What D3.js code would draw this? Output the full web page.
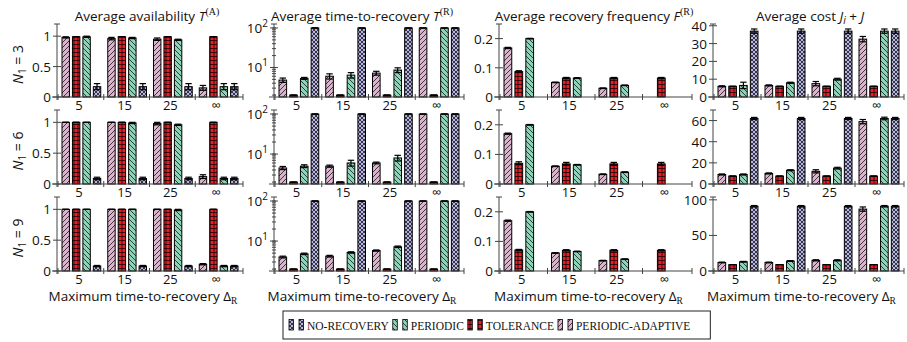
<!DOCTYPE html>
<html>
<head>
<meta charset="utf-8">
<script src="https://cdn.jsdelivr.net/npm/d3@7"></script>
<style>
  body { margin: 0; background: #fff; }
  svg text { font-family: "Open Sans", "DejaVu Sans", sans-serif; fill: #111; }
</style>
</head>
<body>
<svg id="chart" width="907" height="342"></svg>
<script>
// ---- data -------------------------------------------------------------
const deltas = ["5", "15", "25", "∞"];
const strategies = ["PERIODIC-ADAPTIVE", "TOLERANCE", "PERIODIC", "NO-RECOVERY"];
const legendOrder = ["NO-RECOVERY", "PERIODIC", "TOLERANCE", "PERIODIC-ADAPTIVE"];
const n1Values = [3, 6, 9];

// values indexed [row N1][strategy][delta]
const availability = [
  [[0.98, 0.96, 0.95, 0.15], [0.99, 0.99, 0.99, 0.99], [0.99, 0.97, 0.94, 0.17], [0.17, 0.17, 0.17, 0.17]],
  [[1.00, 1.00, 0.98, 0.12], [1.00, 1.00, 1.00, 1.00], [1.00, 0.99, 0.96, 0.09], [0.09, 0.09, 0.09, 0.09]],
  [[1.00, 1.00, 1.00, 0.11], [1.00, 1.00, 1.00, 1.00], [1.00, 1.00, 0.99, 0.08], [0.08, 0.08, 0.08, 0.08]]
];
const availabilityErr = [
  [[0.01, 0.02, 0.02, 0.04], [0, 0, 0, 0], [0.01, 0.01, 0.01, 0.05], [0.05, 0.05, 0.05, 0.05]],
  [[0, 0, 0.02, 0.03], [0, 0, 0, 0], [0, 0.01, 0.01, 0.02], [0.02, 0.02, 0.02, 0.02]],
  [[0, 0, 0, 0.01], [0, 0, 0, 0], [0, 0, 0.01, 0.01], [0.01, 0.01, 0.01, 0.01]]
];

const recoveryTime = [
  [[4.8, 6.0, 7.2, 100], [2, 2, 2, 2], [5.3, 6.4, 8.6, 100], [100, 100, 100, 100]],
  [[4.5, 5.0, 6.0, 100], [2, 2, 2, 2], [5.0, 6.0, 8.0, 100], [100, 100, 100, 100]],
  [[4.0, 4.2, 5.8, 100], [2, 2, 2, 2], [4.8, 5.2, 7.2, 100], [100, 100, 100, 100]]
];
const recoveryTimeErr = [
  [[0.6, 0.9, 0.8, 0], [0, 0, 0, 0], [0.3, 1.0, 1.2, 0], [0, 0, 0, 0]],
  [[0.4, 0.3, 0.3, 0], [0, 0, 0, 0], [0.4, 1.0, 1.3, 0], [0, 0, 0, 0]],
  [[0.2, 0.2, 0.2, 0], [0, 0, 0, 0], [0.2, 0.2, 0.3, 0], [0, 0, 0, 0]]
];

const recoveryFreq = [
  [[0.168, 0.050, 0.030, 0], [0.087, 0.065, 0.065, 0.065], [0.200, 0.065, 0.040, 0], [0, 0, 0, 0]],
  [[0.170, 0.060, 0.033, 0], [0.070, 0.068, 0.068, 0.068], [0.200, 0.065, 0.040, 0], [0, 0, 0, 0]],
  [[0.170, 0.061, 0.035, 0], [0.071, 0.070, 0.070, 0.070], [0.200, 0.066, 0.040, 0], [0, 0, 0, 0]]
];
const recoveryFreqErr = [
  [[0.002, 0.001, 0.001, 0], [0.003, 0.002, 0.002, 0.002], [0.001, 0.001, 0.001, 0], [0, 0, 0, 0]],
  [[0.002, 0.001, 0.001, 0], [0.005, 0.005, 0.005, 0.005], [0.001, 0.001, 0.001, 0], [0, 0, 0, 0]],
  [[0.002, 0.001, 0.001, 0], [0.002, 0.002, 0.002, 0.002], [0.001, 0.001, 0.001, 0], [0, 0, 0, 0]]
];

const cost = [
  [[6.0, 6.5, 7.5, 32.5], [6.0, 6.0, 6.0, 6.0], [6.5, 8.0, 10.0, 37], [37, 37, 37, 37]],
  [[9.0, 10.0, 12.0, 59], [7.5, 7.5, 7.5, 7.5], [9.0, 13.0, 15.0, 62], [62, 62, 62, 62]],
  [[12.0, 12.0, 15.0, 87], [9.0, 9.0, 9.0, 9.0], [13.0, 14.0, 15.0, 91], [91, 91, 91, 91]]
];
const costErr = [
  [[0.3, 0.3, 1.2, 1.5], [0, 0, 0, 0], [1.8, 0.3, 0.5, 1.2], [1.2, 1.2, 1.2, 1.2]],
  [[0.5, 0.5, 1.5, 2.0], [0, 0, 0, 0], [0.5, 0.5, 0.8, 1.2], [1.0, 1.0, 1.0, 1.0]],
  [[0.5, 0.5, 0.8, 3.0], [0, 0, 0, 0], [0.5, 0.5, 0.8, 1.0], [1.0, 1.0, 1.0, 1.0]]
];

const availabilityTicks = [0, 0.5, 1];
const recoveryTimeTicks = [10, 100];
const recoveryFreqTicks = [0, 0.1, 0.2];
const costTicks = [[0, 10, 20, 30, 40], [0, 20, 40, 60], [0, 50, 100]];
const costMax = [41, 70, 104];

// ---- styling ----------------------------------------------------------
const fills = {
  "PERIODIC-ADAPTIVE": "#dab3cc",
  "TOLERANCE": "#ec1c24",
  "PERIODIC": "#8dd3b7",
  "NO-RECOVERY": "#b5b4e3"
};
const hatch = {
  "PERIODIC-ADAPTIVE": { id: "pat-adaptive", size: 5, d: "M-1,1 l2,-2 M0,5 l5,-5 M4,6 l2,-2" },
  "TOLERANCE": { id: "pat-tolerance", size: 4, d: "M0,0.5 h4 M2,0 v4" },
  "PERIODIC": { id: "pat-periodic", size: 5, d: "M-1,4 l2,2 M0,0 l5,5 M4,-1 l2,2" },
  "NO-RECOVERY": { id: "pat-none", size: 4, d: "M-1,1 l2,-2 M0,4 l4,-4 M3,5 l2,-2 M-1,3 l2,2 M0,0 l4,4 M3,-1 l2,2" }
};

const svg = d3.select("#chart");
const defs = svg.append("defs");
strategies.forEach(s => {
  const h = hatch[s];
  const p = defs.append("pattern")
    .attr("id", h.id).attr("patternUnits", "userSpaceOnUse")
    .attr("width", h.size).attr("height", h.size);
  p.append("rect").attr("width", h.size).attr("height", h.size).attr("fill", fills[s]);
  p.append("path").attr("d", h.d).attr("stroke", "#000").attr("stroke-width", 0.7).attr("fill", "none");
});

// ---- layout -----------------------------------------------------------
const columns = [
  { left: 57, width: 184, data: availability, err: availabilityErr, log: false },
  { left: 274, width: 188, data: recoveryTime, err: recoveryTimeErr, log: true },
  { left: 499, width: 191, data: recoveryFreq, err: recoveryFreqErr, log: false },
  { left: 713, width: 189, data: cost, err: costErr, log: false }
];
const rows = [{ top: 24, bottom: 97 }, { top: 110, bottom: 184 }, { top: 197, bottom: 271 }];
const axisColor = "#444";

function yScaleFor(ci, ri) {
  const r = rows[ri];
  if (ci === 0) return d3.scaleLinear().domain([0, 1.2]).range([r.bottom, r.top]);
  if (ci === 1) return d3.scaleLog().domain([1.79, 126]).range([r.bottom, r.top]);
  if (ci === 2) return d3.scaleLinear().domain([0, 0.25]).range([r.bottom, r.top]);
  return d3.scaleLinear().domain([0, costMax[ri]]).range([r.bottom, r.top]);
}
function ticksFor(ci, ri) {
  return [availabilityTicks, recoveryTimeTicks, recoveryFreqTicks, costTicks[ri]][ci];
}

columns.forEach((col, ci) => {
  const gx = d3.scaleBand().domain(deltas).range([col.left + 1, col.left + col.width]).padding(0);
  const sx = d3.scaleBand().domain(strategies).range([4, gx.bandwidth() - 3]).paddingInner(0.29).paddingOuter(0);

  rows.forEach((row, ri) => {
    const y = yScaleFor(ci, ri);
    const g = svg.append("g");
    const base = row.bottom;

    // bars
    strategies.forEach((s, si) => {
      deltas.forEach((dl, di) => {
        const v = col.data[ri][si][di];
        if (!(v > 0)) return;
        const x0 = gx(dl) + sx(s);
        const yt = y(v);
        g.append("rect")
          .attr("x", x0).attr("y", yt)
          .attr("width", sx.bandwidth()).attr("height", base - yt)
          .attr("fill", `url(#${hatch[s].id})`)
          .attr("stroke", "#000").attr("stroke-width", 1);
        // error bar
        const e = col.err[ri][si][di];
        const cx = x0 + sx.bandwidth() / 2;
        const hi = y(v + e), lo = y(Math.max(v - e, y.domain()[0]));
        const cw = 3.2;
        const eb = g.append("g").attr("stroke", "#000").attr("stroke-width", 1.2);
        eb.append("line").attr("x1", cx).attr("x2", cx).attr("y1", hi).attr("y2", lo);
        eb.append("line").attr("x1", cx - cw).attr("x2", cx + cw).attr("y1", hi).attr("y2", hi);
        eb.append("line").attr("x1", cx - cw).attr("x2", cx + cw).attr("y1", lo).attr("y2", lo);
      });
    });

    // x axis
    const ax = g.append("g").attr("stroke", axisColor).attr("stroke-width", 1);
    const xEnd = col.left + col.width + 2;
    ax.append("line").attr("x1", col.left - 5).attr("x2", xEnd).attr("y1", base).attr("y2", base);
    deltas.forEach(dl => {
      const tx = gx(dl);
      ax.append("line").attr("x1", tx).attr("x2", tx).attr("y1", base - 3).attr("y2", base + 3);
    });
    ax.append("line").attr("x1", xEnd).attr("x2", xEnd).attr("y1", base - 3).attr("y2", base + 3);
    deltas.forEach(dl => {
      g.append("text")
        .attr("x", gx(dl) + gx.bandwidth() / 2 - 2).attr("y", base + 13)
        .attr("text-anchor", "middle").attr("font-size", 13)
        .text(dl);
    });

    // y axis
    ax.append("line").attr("x1", col.left).attr("x2", col.left).attr("y1", row.top).attr("y2", base + 3);
    ax.append("line").attr("x1", col.left - 3).attr("x2", col.left + 3).attr("y1", row.top).attr("y2", row.top);
    if (col.log) {
      // minor log ticks
      const [lo, hi] = y.domain();
      for (let dec = 1; dec <= 100; dec *= 10) {
        for (let m = 1; m <= 9; m++) {
          const v = m * dec;
          if (v < lo || v > hi) continue;
          ax.append("line").attr("x1", col.left - 2).attr("x2", col.left + 2).attr("y1", y(v)).attr("y2", y(v));
        }
      }
    }
    ticksFor(ci, ri).forEach(t => {
      ax.append("line").attr("x1", col.left - 4).attr("x2", col.left + 4).attr("y1", y(t)).attr("y2", y(t));
      const label = g.append("text")
        .attr("x", col.left - 6).attr("y", y(t) + 5)
        .attr("text-anchor", "end").attr("font-size", 13.5);
      if (col.log) {
        label.append("tspan").text("10");
        label.append("tspan").attr("font-size", 10).attr("dy", -6).text(String(Math.round(Math.log10(t))));
      } else {
        label.text(String(t));
      }
    });
  });

  // x-axis caption under the bottom row
  const cap = svg.append("text")
    .attr("x", col.left + col.width / 2 - 6).attr("y", 301)
    .attr("text-anchor", "middle").attr("font-size", 13.5)
    .text("Maximum time-to-recovery Δ");
  cap.append("tspan").attr("dy", 3).attr("font-size", 9.5)
    .attr("font-family", "Liberation Serif, serif").text("R");
});

// ---- column titles ----------------------------------------------------
function title(x, build) {
  const t = svg.append("text").attr("x", x).attr("y", 21).attr("text-anchor", "middle").attr("font-size", 13.5);
  build(t);
}
function sup(t, s) {
  t.append("tspan").attr("dy", -6).attr("font-size", 10)
    .attr("font-family", "Liberation Serif, serif").text(s);
}
title(147, t => { t.append("tspan").text("Average availability "); t.append("tspan").attr("font-style", "italic").text("T"); sup(t, "(A)"); });
title(362, t => { t.append("tspan").text("Average time-to-recovery "); t.append("tspan").attr("font-style", "italic").text("T"); sup(t, "(R)"); });
title(594, t => { t.append("tspan").text("Average recovery frequency "); t.append("tspan").attr("font-style", "italic").text("F"); sup(t, "(R)"); });
title(810, t => {
  t.append("tspan").text("Average cost ");
  t.append("tspan").attr("font-style", "italic").text("J");
  t.append("tspan").attr("font-style", "italic").attr("font-size", 10).attr("dy", 3).text("i");
  t.append("tspan").attr("dy", -3).text(" + ");
  t.append("tspan").attr("font-style", "italic").text("J");
});

// ---- row labels -------------------------------------------------------
rows.forEach((row, ri) => {
  const cy = (row.top + row.bottom) / 2 + 4;
  const t = svg.append("text")
    .attr("transform", `translate(23,${cy}) rotate(-90)`)
    .attr("text-anchor", "middle").attr("font-size", 14);
  t.append("tspan").attr("font-style", "italic").text("N");
  t.append("tspan").attr("font-size", 10).attr("dy", 3).text("1");
  t.append("tspan").attr("dy", -3).text(" = " + n1Values[ri]);
});

// ---- legend -----------------------------------------------------------
const legend = svg.append("g");
const box = legend.append("rect")
  .attr("y", 311).attr("height", 28)
  .attr("fill", "#fff").attr("stroke", "#222").attr("stroke-width", 1);
let lx = 289;
legendOrder.forEach(s => {
  [0, 10].forEach(off => {
    legend.append("rect")
      .attr("x", lx + off).attr("y", 319.5).attr("width", 4.5).attr("height", 10.5)
      .attr("fill", `url(#${hatch[s].id})`).attr("stroke", "#000").attr("stroke-width", 0.8);
  });
  const txt = legend.append("text")
    .attr("x", lx + 18).attr("y", 329.5)
    .style("font-family", "'Liberation Serif', serif")
    .attr("font-size", 11.5).text(s);
  lx += 18 + txt.node().getComputedTextLength() + 4;
});
box.attr("x", 283).attr("width", lx - 283 + 16);
</script>
</body>
</html>
